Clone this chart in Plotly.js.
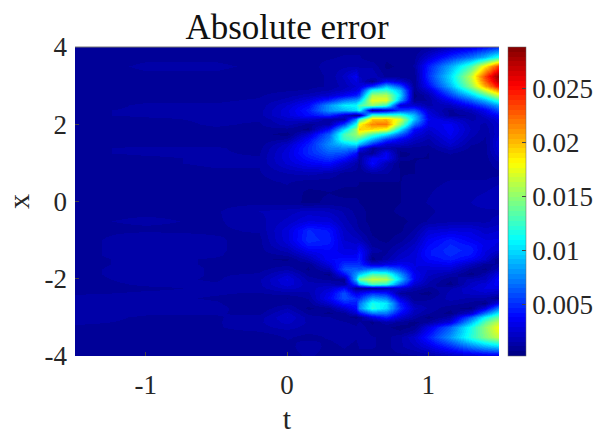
<!DOCTYPE html>
<html><head><meta charset="utf-8">
<script src="https://cdn.plot.ly/plotly-3.0.1.min.js"></script>
<style>html,body{margin:0;padding:0;background:#fff}</style></head>
<body><div id="chart" style="width:599px;height:436px"></div>
<script>
var tValues=[-1.5,-1,-0.5,-0.2,0,0.15,0.3,0.4,0.49,0.51,0.6,0.7,0.8,0.9,1,1.15,1.3,1.4,1.5];
var xValues=[4,3.75,3.5,3.25,3.125,3,2.875,2.75,2.625,2.5,2.375,2.25,2.125,2,1.875,1.75,1.625,1.5,1.375,1.25,1.125,1,0.75,0.5,0.25,0,-0.25,-0.5,-0.75,-1,-1.125,-1.25,-1.375,-1.5,-1.625,-1.75,-1.875,-2,-2.125,-2.25,-2.375,-2.5,-2.625,-2.75,-2.875,-3,-3.125,-3.25,-3.375,-3.5,-3.75,-4];
// absolute error in units of 1e-4, one row per x value, top to bottom
var errorRows=[
[10,10,10,10,10,10,10,10,10,10,10,10,10,8,10,20,30,40,50],
[10,11,11,10,10,11,11,12,12,12,8,8,10,10,25,50,70,90,120],
[10,12,12,11,10,10,13,15,15,15,15,6,8,12,45,85,130,185,240],
[10,11,11,10,10,10,12,22,35,20,20,10,8,8,50,100,165,235,285],
[10,10,10,10,10,10,12,20,30,24,6,35,25,8,45,97,160,225,275],
[10,10,10,10,10,10,12,18,25,28,50,90,60,8,38,88,150,205,255],
[10,10,10,10,11,12,16,22,30,35,115,125,90,8,25,72,125,170,215],
[10,10,10,11,14,18,25,35,45,55,155,160,100,5,15,55,95,130,170],
[10,11,11,12,18,28,48,70,80,90,175,175,85,8,12,35,65,90,125],
[10,12,12,13,25,38,80,105,110,130,150,125,25,25,15,20,40,60,85],
[11,12,12,14,28,45,80,90,100,115,10,25,55,60,25,10,20,35,60],
[11,12,12,14,28,40,50,25,8,10,125,125,125,90,32,10,12,25,40],
[10,11,12,12,22,25,12,15,75,120,195,200,170,95,35,25,15,18,30],
[10,10,12,11,18,10,15,55,115,180,215,220,150,70,32,35,18,15,25],
[10,10,11,10,10,6,40,100,150,195,190,180,105,40,25,37,20,13,25],
[10,10,11,9,5,25,65,130,150,165,130,105,65,30,20,35,18,12,25],
[11,10,11,8,12,38,72,125,135,125,90,55,35,22,15,30,15,11,28],
[11,11,11,9,22,45,78,95,105,90,50,25,22,15,12,25,12,10,30],
[11,12,12,10,26,48,72,75,70,40,10,15,10,10,9,18,10,10,28],
[11,12,12,11,28,48,62,58,40,15,10,35,5,8,7,12,8,10,25],
[10,11,12,12,28,42,52,42,25,12,35,35,8,7,7,10,8,9,20],
[10,11,12,12,26,35,40,25,15,10,40,18,6,7,8,8,8,9,15],
[10,10,11,11,16,18,15,10,10,8,12,12,7,7,9,10,10,10,10],
[10,10,11,10,12,9,9,8,8,7,7,7,7,8,10,12,12,12,15],
[10,11,11,10,10,6,7,6,6,6,6,6,7,9,11,14,15,16,20],
[11,11,10,10,9,6,8,8,8,7,6,6,7,9,12,14,16,18,20],
[11,11,11,16,18,22,20,15,10,8,6,6,8,8,10,15,15,15,15],
[11,12,11,14,22,30,28,18,12,8,6,5,6,8,12,15,15,15,18],
[11,11,11,12,28,48,42,22,15,12,6,5,6,12,25,28,28,22,25],
[10,14,12,10,28,50,45,25,22,20,8,6,10,18,35,45,35,30,30],
[10,14,12,10,24,44,42,28,26,30,10,8,14,22,38,48,42,32,28],
[10,14,12,10,18,35,38,30,30,38,15,10,18,25,42,50,45,30,25],
[10,14,12,9,12,25,38,34,35,45,8,12,22,27,42,48,42,28,15],
[10,13,11,8,6,18,38,40,40,45,5,15,25,28,38,45,35,25,6],
[10,13,11,9,10,8,30,50,50,50,25,30,35,29,32,35,20,10,12],
[10,14,11,10,15,6,18,60,65,62,75,75,55,30,25,25,10,6,20],
[10,14,11,12,24,10,6,40,80,95,130,125,80,35,22,15,5,15,32],
[10,13,11,15,30,14,10,10,90,140,165,160,95,35,18,8,18,20,40],
[10,12,12,15,28,18,18,12,55,85,130,120,65,25,15,5,22,28,38],
[10,11,12,14,22,18,25,40,8,8,10,15,25,15,10,15,25,30,30],
[11,12,12,11,14,15,32,60,30,35,50,45,10,8,5,18,22,24,20],
[13,13,11,9,7,12,36,60,50,50,85,75,28,8,10,18,15,15,6],
[14,13,12,8,10,9,25,45,45,70,115,105,45,15,14,14,10,6,35],
[14,12,13,8,16,6,10,25,40,75,120,100,50,22,15,8,6,30,75],
[14,12,12,10,22,10,6,10,25,40,70,70,38,18,12,5,25,70,110],
[13,11,11,14,25,14,12,8,6,8,30,45,25,14,5,15,65,110,140],
[12,11,11,15,22,15,14,12,10,12,6,15,10,5,12,30,90,135,165],
[11,11,11,14,18,14,14,14,12,15,8,8,5,8,30,65,115,150,180],
[11,11,10,11,14,12,13,14,12,15,10,10,8,15,38,72,118,148,175],
[10,11,10,8,12,10,12,14,12,14,12,10,15,25,45,80,120,145,165],
[10,10,11,8,10,14,10,12,10,12,12,10,15,20,30,50,75,90,100],
[10,10,11,9,10,12,10,10,10,10,10,10,10,10,12,18,22,25,25]
];
var xTickVals=[-4,-2,0,2,4], xTickText=['-4','-2','0','2','4'];
var tTickVals=[-1,0,1], tTickText=['-1','0','1'];
var cbarTicks=[0.005,0.01,0.015,0.02,0.025], cbarText=['0.005','0.01','0.015','0.02','0.025'];
var jetStops=[[0,0,0,128],[0.125,0,0,255],[0.375,0,255,255],[0.625,255,255,0],[0.875,255,0,0],[1,128,0,0]];

function jet(f){
  for(var i=1;i<jetStops.length;i++){
    if(f<=jetStops[i][0]){
      var a=jetStops[i-1],b=jetStops[i],u=(f-a[0])/(b[0]-a[0]);
      return 'rgb('+[1,2,3].map(function(k){return Math.round(a[k]+u*(b[k]-a[k]));}).join(',')+')';
    }
  }
  return 'rgb(128,0,0)';
}
var N=64,scale=[];
for(var i=0;i<N;i++){var c=jet((i+0.5)/N);scale.push([i/N,c]);scale.push([(i+1)/N,c]);}

var serif='"Liberation Serif","Times New Roman",serif';
var z=errorRows.slice().reverse().map(function(r){return r.map(function(v){return v*1e-4;});});
var y=xValues.slice().reverse();
Plotly.newPlot('chart',[{
  type:'heatmap',x:tValues,y:y,z:z,zsmooth:'best',colorscale:scale,zmin:0.00026,zmax:0.0288,
  colorbar:{x:(508-75)/424,xanchor:'left',y:0,yanchor:'bottom',len:1,lenmode:'fraction',thickness:18,thicknessmode:'pixels',
    outlinecolor:'#666',outlinewidth:0.5,tickmode:'array',tickvals:cbarTicks,ticktext:cbarText,ticks:'inside',ticklen:4,tickcolor:'#444',
    tickfont:{family:serif,size:27,color:'#262626'},ypad:0,xpad:0}
}],{
  width:599,height:436,paper_bgcolor:'#fff',plot_bgcolor:'#fff',
  margin:{l:75,r:100,t:47,b:80,autoexpand:false},
  title:{text:'Absolute error',font:{family:serif,size:35,color:'#111'},x:287/599,xanchor:'center',y:1-27/436,yanchor:'middle'},
  xaxis:{range:[-1.5,1.5],tickmode:'array',tickvals:tTickVals,ticktext:tTickText,ticks:'inside',ticklen:4,tickcolor:'#444',ticklabelstandoff:10,
    tickfont:{family:serif,size:27,color:'#262626'},showgrid:false,zeroline:false,
    title:{text:'t',font:{family:serif,size:30,color:'#262626'},standoff:8}},
  yaxis:{range:[-4,4],tickmode:'array',tickvals:xTickVals,ticktext:xTickText,ticks:'inside',ticklen:4,tickcolor:'#444',ticklabelstandoff:7,
    tickfont:{family:serif,size:27,color:'#262626'},showgrid:false,zeroline:false,
    title:{text:'x',font:{family:serif,size:30,color:'#262626'},standoff:6}},
  shapes:[{type:'line',xref:'paper',yref:'paper',x0:0,x1:1,y0:1,y1:1,line:{color:'#777',width:1}}]
},{displayModeBar:false,staticPlot:true});
</script></body></html>
